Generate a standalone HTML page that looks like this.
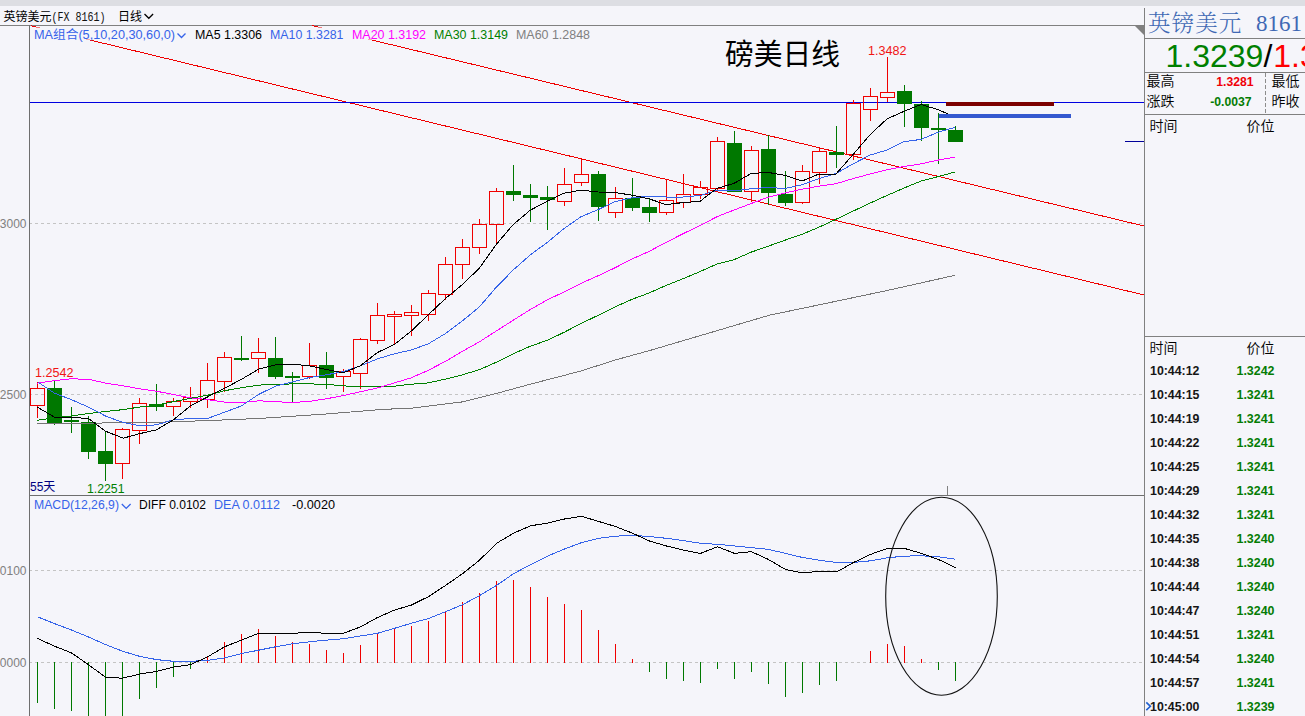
<!DOCTYPE html>
<html lang="zh"><head><meta charset="utf-8"><title>英镑美元 日线</title>
<style>html,body{margin:0;padding:0;background:#f5f5fa;overflow:hidden}svg text{white-space:pre}</style></head>
<body>
<svg width="1305" height="716" viewBox="0 0 1305 716" style="display:block">
<rect x="0" y="0" width="1305" height="716" fill="#f5f5fa"/>
<rect x="0" y="0" width="1305" height="6" fill="#dddee3"/>
<text x="3.5" y="20.6" font-family='"Liberation Sans", "Noto Sans CJK SC", sans-serif' font-size="12" fill="#000" textLength="48" lengthAdjust="spacingAndGlyphs">英镑美元</text>
<text x="51.5" y="20.6" font-family='"Liberation Mono", "Noto Sans CJK SC", monospace' font-size="12" fill="#111" textLength="54" lengthAdjust="spacingAndGlyphs" xml:space="preserve">(FX 8161)</text>
<text x="118" y="20.6" font-family='"Liberation Sans", "Noto Sans CJK SC", sans-serif' font-size="12" fill="#000">日线</text>
<polyline points="144.5,14 148.8,18.3 153.1,14" fill="none" stroke="#000" stroke-width="1.3"/>
<rect x="0" y="25" width="1144" height="1" fill="#808080"/>
<line x1="29" y1="223.5" x2="1144" y2="223.5" stroke="#c4c4c4" stroke-width="1" stroke-dasharray="3,3"/>
<line x1="29" y1="394.5" x2="1144" y2="394.5" stroke="#c4c4c4" stroke-width="1" stroke-dasharray="3,3"/>
<line x1="29" y1="570.5" x2="1144" y2="570.5" stroke="#c4c4c4" stroke-width="1" stroke-dasharray="3,3"/>
<line x1="29" y1="662.5" x2="1144" y2="662.5" stroke="#c4c4c4" stroke-width="1" stroke-dasharray="3,3"/>
<rect x="29" y="25" width="1" height="691" fill="#6e6e6e"/>
<rect x="29" y="495" width="1115" height="1" fill="#6e6e6e"/>
<text x="26.5" y="228" text-anchor="end" font-family='"Liberation Sans", "Noto Sans CJK SC", sans-serif' font-size="12" fill="#808080">1.3000</text>
<text x="26.5" y="398.5" text-anchor="end" font-family='"Liberation Sans", "Noto Sans CJK SC", sans-serif' font-size="12" fill="#808080">1.2500</text>
<text x="26.5" y="575" text-anchor="end" font-family='"Liberation Sans", "Noto Sans CJK SC", sans-serif' font-size="12" fill="#808080">0.0100</text>
<text x="26.5" y="667" text-anchor="end" font-family='"Liberation Sans", "Noto Sans CJK SC", sans-serif' font-size="12" fill="#808080">0.0000</text>
<line x1="30.5" y1="25.6" x2="1144" y2="295" stroke="#f00000" stroke-width="1" shape-rendering="crispEdges"/>
<line x1="312" y1="25.6" x2="1144" y2="226" stroke="#f00000" stroke-width="1" shape-rendering="crispEdges"/>
<rect x="30" y="27.5" width="570" height="12.2" fill="#f5f5fa"/>
<rect x="30" y="102" width="1114" height="1" fill="#0000e0"/>
<rect x="1125" y="141" width="19" height="1" fill="#000099"/>
<line x1="37.5" y1="382" x2="37.5" y2="388" stroke="#f00000" stroke-width="1"/>
<line x1="37.5" y1="406" x2="37.5" y2="418" stroke="#f00000" stroke-width="1"/>
<rect x="30.5" y="388.5" width="14" height="17" fill="none" stroke="#f00000" stroke-width="1"/>
<line x1="54.5" y1="380" x2="54.5" y2="425" stroke="#007800" stroke-width="1"/>
<rect x="47.0" y="388" width="15" height="35" fill="#007800"/>
<line x1="71.5" y1="407" x2="71.5" y2="433" stroke="#007800" stroke-width="1"/>
<rect x="64.0" y="420" width="15" height="2" fill="#007800"/>
<line x1="88.5" y1="416" x2="88.5" y2="459" stroke="#007800" stroke-width="1"/>
<rect x="81.0" y="422" width="15" height="30" fill="#007800"/>
<line x1="105.5" y1="432" x2="105.5" y2="481" stroke="#007800" stroke-width="1"/>
<rect x="98.0" y="451" width="15" height="13" fill="#007800"/>
<line x1="122.5" y1="428" x2="122.5" y2="429" stroke="#f00000" stroke-width="1"/>
<line x1="122.5" y1="464" x2="122.5" y2="479" stroke="#f00000" stroke-width="1"/>
<rect x="115.5" y="429.5" width="14" height="34" fill="none" stroke="#f00000" stroke-width="1"/>
<line x1="139.5" y1="398" x2="139.5" y2="403" stroke="#f00000" stroke-width="1"/>
<line x1="139.5" y1="431" x2="139.5" y2="444" stroke="#f00000" stroke-width="1"/>
<rect x="132.5" y="403.5" width="14" height="27" fill="none" stroke="#f00000" stroke-width="1"/>
<line x1="156.5" y1="384" x2="156.5" y2="411" stroke="#007800" stroke-width="1"/>
<rect x="149.0" y="404" width="15" height="3" fill="#007800"/>
<line x1="173.5" y1="398" x2="173.5" y2="401" stroke="#f00000" stroke-width="1"/>
<line x1="173.5" y1="407" x2="173.5" y2="416" stroke="#f00000" stroke-width="1"/>
<rect x="166.5" y="401.5" width="14" height="5" fill="none" stroke="#f00000" stroke-width="1"/>
<line x1="190.5" y1="387" x2="190.5" y2="397" stroke="#f00000" stroke-width="1"/>
<line x1="190.5" y1="402" x2="190.5" y2="408" stroke="#f00000" stroke-width="1"/>
<rect x="183.5" y="397.5" width="14" height="4" fill="none" stroke="#f00000" stroke-width="1"/>
<line x1="207.5" y1="363" x2="207.5" y2="380" stroke="#f00000" stroke-width="1"/>
<line x1="207.5" y1="400" x2="207.5" y2="408" stroke="#f00000" stroke-width="1"/>
<rect x="200.5" y="380.5" width="14" height="19" fill="none" stroke="#f00000" stroke-width="1"/>
<line x1="224.5" y1="352" x2="224.5" y2="357" stroke="#f00000" stroke-width="1"/>
<line x1="224.5" y1="382" x2="224.5" y2="392" stroke="#f00000" stroke-width="1"/>
<rect x="217.5" y="357.5" width="14" height="24" fill="none" stroke="#f00000" stroke-width="1"/>
<line x1="241.5" y1="336" x2="241.5" y2="361" stroke="#007800" stroke-width="1"/>
<rect x="234.0" y="358" width="15" height="2" fill="#007800"/>
<line x1="258.5" y1="338" x2="258.5" y2="352" stroke="#f00000" stroke-width="1"/>
<line x1="258.5" y1="359" x2="258.5" y2="373" stroke="#f00000" stroke-width="1"/>
<rect x="251.5" y="352.5" width="14" height="6" fill="none" stroke="#f00000" stroke-width="1"/>
<line x1="275.5" y1="337" x2="275.5" y2="379" stroke="#007800" stroke-width="1"/>
<rect x="268.0" y="358" width="15" height="19" fill="#007800"/>
<line x1="292.5" y1="372" x2="292.5" y2="402" stroke="#007800" stroke-width="1"/>
<rect x="285.0" y="376" width="15" height="2" fill="#007800"/>
<line x1="309.5" y1="343" x2="309.5" y2="365" stroke="#f00000" stroke-width="1"/>
<line x1="309.5" y1="377" x2="309.5" y2="379" stroke="#f00000" stroke-width="1"/>
<rect x="302.5" y="365.5" width="14" height="11" fill="none" stroke="#f00000" stroke-width="1"/>
<line x1="326.5" y1="352" x2="326.5" y2="389" stroke="#007800" stroke-width="1"/>
<rect x="319.0" y="365" width="15" height="13" fill="#007800"/>
<line x1="343.5" y1="369" x2="343.5" y2="371" stroke="#f00000" stroke-width="1"/>
<line x1="343.5" y1="377" x2="343.5" y2="392" stroke="#f00000" stroke-width="1"/>
<rect x="336.5" y="371.5" width="14" height="5" fill="none" stroke="#f00000" stroke-width="1"/>
<line x1="360.5" y1="338" x2="360.5" y2="339" stroke="#f00000" stroke-width="1"/>
<line x1="360.5" y1="374" x2="360.5" y2="389" stroke="#f00000" stroke-width="1"/>
<rect x="353.5" y="339.5" width="14" height="34" fill="none" stroke="#f00000" stroke-width="1"/>
<line x1="377.5" y1="303" x2="377.5" y2="315" stroke="#f00000" stroke-width="1"/>
<line x1="377.5" y1="341" x2="377.5" y2="344" stroke="#f00000" stroke-width="1"/>
<rect x="370.5" y="315.5" width="14" height="25" fill="none" stroke="#f00000" stroke-width="1"/>
<line x1="394.5" y1="311" x2="394.5" y2="314" stroke="#f00000" stroke-width="1"/>
<line x1="394.5" y1="317" x2="394.5" y2="345" stroke="#f00000" stroke-width="1"/>
<rect x="387.5" y="314.5" width="14" height="2" fill="none" stroke="#f00000" stroke-width="1"/>
<line x1="411.5" y1="305" x2="411.5" y2="312" stroke="#f00000" stroke-width="1"/>
<line x1="411.5" y1="316" x2="411.5" y2="336" stroke="#f00000" stroke-width="1"/>
<rect x="404.5" y="312.5" width="14" height="3" fill="none" stroke="#f00000" stroke-width="1"/>
<line x1="428.5" y1="290" x2="428.5" y2="293" stroke="#f00000" stroke-width="1"/>
<line x1="428.5" y1="315" x2="428.5" y2="321" stroke="#f00000" stroke-width="1"/>
<rect x="421.5" y="293.5" width="14" height="21" fill="none" stroke="#f00000" stroke-width="1"/>
<line x1="445.5" y1="257" x2="445.5" y2="264" stroke="#f00000" stroke-width="1"/>
<line x1="445.5" y1="295" x2="445.5" y2="300" stroke="#f00000" stroke-width="1"/>
<rect x="438.5" y="264.5" width="14" height="30" fill="none" stroke="#f00000" stroke-width="1"/>
<line x1="462.5" y1="239" x2="462.5" y2="247" stroke="#f00000" stroke-width="1"/>
<line x1="462.5" y1="265" x2="462.5" y2="279" stroke="#f00000" stroke-width="1"/>
<rect x="455.5" y="247.5" width="14" height="17" fill="none" stroke="#f00000" stroke-width="1"/>
<line x1="479.5" y1="219" x2="479.5" y2="224" stroke="#f00000" stroke-width="1"/>
<line x1="479.5" y1="248" x2="479.5" y2="254" stroke="#f00000" stroke-width="1"/>
<rect x="472.5" y="224.5" width="14" height="23" fill="none" stroke="#f00000" stroke-width="1"/>
<line x1="496.5" y1="188" x2="496.5" y2="191" stroke="#f00000" stroke-width="1"/>
<line x1="496.5" y1="225" x2="496.5" y2="243" stroke="#f00000" stroke-width="1"/>
<rect x="489.5" y="191.5" width="14" height="33" fill="none" stroke="#f00000" stroke-width="1"/>
<line x1="513.5" y1="165" x2="513.5" y2="201" stroke="#007800" stroke-width="1"/>
<rect x="506.0" y="191" width="15" height="4" fill="#007800"/>
<line x1="530.5" y1="184" x2="530.5" y2="222" stroke="#007800" stroke-width="1"/>
<rect x="523.0" y="195" width="15" height="3" fill="#007800"/>
<line x1="547.5" y1="186" x2="547.5" y2="230" stroke="#007800" stroke-width="1"/>
<rect x="540.0" y="197" width="15" height="3" fill="#007800"/>
<line x1="564.5" y1="168" x2="564.5" y2="184" stroke="#f00000" stroke-width="1"/>
<line x1="564.5" y1="202" x2="564.5" y2="206" stroke="#f00000" stroke-width="1"/>
<rect x="557.5" y="184.5" width="14" height="17" fill="none" stroke="#f00000" stroke-width="1"/>
<line x1="581.5" y1="159" x2="581.5" y2="174" stroke="#f00000" stroke-width="1"/>
<line x1="581.5" y1="183" x2="581.5" y2="186" stroke="#f00000" stroke-width="1"/>
<rect x="574.5" y="174.5" width="14" height="8" fill="none" stroke="#f00000" stroke-width="1"/>
<line x1="598.5" y1="171" x2="598.5" y2="221" stroke="#007800" stroke-width="1"/>
<rect x="591.0" y="174" width="15" height="33" fill="#007800"/>
<line x1="615.5" y1="187" x2="615.5" y2="198" stroke="#f00000" stroke-width="1"/>
<line x1="615.5" y1="213" x2="615.5" y2="218" stroke="#f00000" stroke-width="1"/>
<rect x="608.5" y="198.5" width="14" height="14" fill="none" stroke="#f00000" stroke-width="1"/>
<line x1="632.5" y1="178" x2="632.5" y2="211" stroke="#007800" stroke-width="1"/>
<rect x="625.0" y="198" width="15" height="10" fill="#007800"/>
<line x1="649.5" y1="199" x2="649.5" y2="222" stroke="#007800" stroke-width="1"/>
<rect x="642.0" y="207" width="15" height="6" fill="#007800"/>
<line x1="666.5" y1="180" x2="666.5" y2="200" stroke="#f00000" stroke-width="1"/>
<line x1="666.5" y1="213" x2="666.5" y2="215" stroke="#f00000" stroke-width="1"/>
<rect x="659.5" y="200.5" width="14" height="12" fill="none" stroke="#f00000" stroke-width="1"/>
<line x1="683.5" y1="174" x2="683.5" y2="194" stroke="#f00000" stroke-width="1"/>
<line x1="683.5" y1="203" x2="683.5" y2="208" stroke="#f00000" stroke-width="1"/>
<rect x="676.5" y="194.5" width="14" height="8" fill="none" stroke="#f00000" stroke-width="1"/>
<line x1="700.5" y1="181" x2="700.5" y2="187" stroke="#f00000" stroke-width="1"/>
<line x1="700.5" y1="195" x2="700.5" y2="199" stroke="#f00000" stroke-width="1"/>
<rect x="693.5" y="187.5" width="14" height="7" fill="none" stroke="#f00000" stroke-width="1"/>
<line x1="717.5" y1="137" x2="717.5" y2="141" stroke="#f00000" stroke-width="1"/>
<line x1="717.5" y1="189" x2="717.5" y2="191" stroke="#f00000" stroke-width="1"/>
<rect x="710.5" y="141.5" width="14" height="47" fill="none" stroke="#f00000" stroke-width="1"/>
<line x1="734.5" y1="131" x2="734.5" y2="192" stroke="#007800" stroke-width="1"/>
<rect x="727.0" y="143" width="15" height="49" fill="#007800"/>
<line x1="751.5" y1="146" x2="751.5" y2="150" stroke="#f00000" stroke-width="1"/>
<line x1="751.5" y1="192" x2="751.5" y2="202" stroke="#f00000" stroke-width="1"/>
<rect x="744.5" y="150.5" width="14" height="41" fill="none" stroke="#f00000" stroke-width="1"/>
<line x1="768.5" y1="135" x2="768.5" y2="205" stroke="#007800" stroke-width="1"/>
<rect x="761.0" y="149" width="15" height="44" fill="#007800"/>
<line x1="785.5" y1="171" x2="785.5" y2="206" stroke="#007800" stroke-width="1"/>
<rect x="778.0" y="194" width="15" height="9" fill="#007800"/>
<line x1="802.5" y1="165" x2="802.5" y2="171" stroke="#f00000" stroke-width="1"/>
<line x1="802.5" y1="203" x2="802.5" y2="204" stroke="#f00000" stroke-width="1"/>
<rect x="795.5" y="171.5" width="14" height="31" fill="none" stroke="#f00000" stroke-width="1"/>
<line x1="819.5" y1="148" x2="819.5" y2="151" stroke="#f00000" stroke-width="1"/>
<line x1="819.5" y1="173" x2="819.5" y2="184" stroke="#f00000" stroke-width="1"/>
<rect x="812.5" y="151.5" width="14" height="21" fill="none" stroke="#f00000" stroke-width="1"/>
<line x1="836.5" y1="126" x2="836.5" y2="168" stroke="#007800" stroke-width="1"/>
<rect x="829.0" y="152" width="15" height="3" fill="#007800"/>
<line x1="853.5" y1="100" x2="853.5" y2="103" stroke="#f00000" stroke-width="1"/>
<line x1="853.5" y1="155" x2="853.5" y2="160" stroke="#f00000" stroke-width="1"/>
<rect x="846.5" y="103.5" width="14" height="51" fill="none" stroke="#f00000" stroke-width="1"/>
<line x1="870.5" y1="88" x2="870.5" y2="96" stroke="#f00000" stroke-width="1"/>
<line x1="870.5" y1="110" x2="870.5" y2="121" stroke="#f00000" stroke-width="1"/>
<rect x="863.5" y="96.5" width="14" height="13" fill="none" stroke="#f00000" stroke-width="1"/>
<line x1="887.5" y1="57" x2="887.5" y2="92" stroke="#f00000" stroke-width="1"/>
<line x1="887.5" y1="98" x2="887.5" y2="102" stroke="#f00000" stroke-width="1"/>
<rect x="880.5" y="92.5" width="14" height="5" fill="none" stroke="#f00000" stroke-width="1"/>
<line x1="904.5" y1="85" x2="904.5" y2="127" stroke="#007800" stroke-width="1"/>
<rect x="897.0" y="91" width="15" height="13" fill="#007800"/>
<line x1="921.5" y1="101" x2="921.5" y2="141" stroke="#007800" stroke-width="1"/>
<rect x="914.0" y="104" width="15" height="24" fill="#007800"/>
<line x1="938.5" y1="113" x2="938.5" y2="164" stroke="#007800" stroke-width="1"/>
<rect x="931.0" y="128" width="15" height="2" fill="#007800"/>
<line x1="955.5" y1="126" x2="955.5" y2="142" stroke="#007800" stroke-width="1"/>
<rect x="948.0" y="130" width="15" height="12" fill="#007800"/>
<polyline points="37.4,423.6 88.0,423.2 156.3,422.3 207.4,420.6 258.5,418.5 326.5,414.0 382.0,409.4 411.3,408.2 462.4,401.9 496.3,393.5 530.2,384.2 581.0,371.0 614.9,360.1 640.0,353.2 648.8,350.8 769.0,315.3 819.8,304.7 886.2,290.7 954.6,275.4" fill="none" stroke="#757575" stroke-width="1" stroke-linejoin="round" shape-rendering="crispEdges"/>
<polyline points="37.4,420.3 54.6,417.8 71.3,416.0 88.5,413.5 105.5,411.5 122.4,409.7 139.4,407.1 156.3,405.1 173.5,401.6 190.4,398.3 207.4,395.3 224.6,390.7 241.5,387.7 258.5,385.1 275.4,384.4 292.6,383.9 309.6,383.9 326.5,384.3 343.5,385.9 360.5,386.7 377.4,386.7 394.4,386.2 411.3,384.2 428.5,382.9 445.4,379.1 462.4,374.8 479.3,369.7 496.3,362.2 513.2,353.8 530.2,346.2 547.1,340.4 564.1,332.3 581.0,323.5 598.0,315.4 614.9,307.0 631.8,299.4 649.0,293.0 666.0,285.5 683.0,278.7 700.0,271.6 717.0,264.0 734.0,259.7 751.0,252.2 768.0,246.3 785.0,240.2 802.0,234.3 819.0,227.2 836.0,219.3 853.0,211.2 870.0,203.1 887.0,195.5 904.0,188.0 921.0,181.1 938.0,176.6 955.0,172.0" fill="none" stroke="#008000" stroke-width="1" stroke-linejoin="round" shape-rendering="crispEdges"/>
<polyline points="37.4,383.1 54.6,380.6 71.3,378.8 88.5,379.3 105.5,383.1 122.4,385.7 139.4,388.7 156.3,391.2 173.5,394.5 190.4,397.8 207.4,399.6 224.6,402.1 241.5,402.6 258.5,400.8 275.4,401.6 292.6,402.6 309.6,401.3 326.5,398.8 343.5,395.5 360.5,391.7 377.4,388.0 394.4,382.9 411.3,377.8 428.5,370.2 445.4,361.4 462.4,351.3 479.3,341.9 496.3,331.0 513.2,320.2 530.2,309.6 547.1,299.9 564.1,292.0 581.0,283.4 598.0,275.8 615.0,267.8 632.0,259.0 649.0,251.4 666.0,242.5 683.0,233.7 700.0,225.6 717.0,216.7 734.0,210.0 751.0,203.6 768.0,197.2 785.0,193.0 802.0,189.2 819.0,186.2 836.0,183.7 853.0,178.6 870.0,174.0 887.0,169.7 904.0,166.5 921.0,163.9 938.0,160.1 955.0,157.1" fill="none" stroke="#ff00ff" stroke-width="1" stroke-linejoin="round" shape-rendering="crispEdges"/>
<polyline points="37.4,381.8 54.6,393.2 71.3,399.6 88.5,407.1 105.5,416.0 122.4,422.3 139.4,425.6 156.3,424.9 173.5,419.8 190.4,418.5 207.4,418.5 224.6,412.2 241.5,405.9 258.5,394.5 275.4,386.2 292.6,381.8 309.6,377.5 326.5,374.8 343.5,371.5 360.5,365.7 377.4,358.9 394.4,353.8 411.3,350.0 428.5,343.7 445.4,333.6 462.4,320.9 479.3,307.0 496.3,287.2 513.2,270.0 530.2,255.0 547.1,242.5 564.0,228.6 581.0,216.7 598.0,209.7 615.0,201.6 632.0,197.8 649.0,196.3 666.0,197.0 683.0,197.0 700.0,195.5 717.0,190.4 734.0,191.0 751.0,188.7 768.0,187.5 785.0,188.5 802.0,184.7 819.0,178.6 836.0,173.5 853.0,163.9 870.0,155.1 887.0,150.0 904.0,141.7 921.0,139.4 938.0,132.3 955.0,127.3" fill="none" stroke="#3563e9" stroke-width="1" stroke-linejoin="round" shape-rendering="crispEdges"/>
<polyline points="37.4,407.1 54.6,417.3 71.3,417.3 88.5,418.5 105.5,431.2 123.2,438.2 139.4,433.7 156.3,429.9 173.5,419.8 190.4,405.9 207.4,397.0 224.6,388.2 241.5,379.3 258.5,369.2 275.4,364.9 292.6,364.1 309.6,365.9 326.5,369.5 343.5,372.8 360.5,365.7 377.4,352.5 394.4,344.5 411.3,331.0 428.5,314.6 445.4,298.6 462.4,284.6 479.3,268.2 496.3,244.4 513.0,224.8 530.0,210.4 547.0,201.3 564.0,193.2 581.0,190.2 598.0,192.0 615.0,192.5 632.0,195.2 649.0,198.8 666.0,204.6 683.0,202.6 700.0,201.3 717.0,188.4 734.0,183.4 751.0,173.5 768.0,172.4 785.0,175.3 802.0,181.1 819.0,174.0 836.0,174.0 853.0,154.6 870.0,134.8 887.0,118.9 904.0,111.3 921.0,104.5 938.0,109.6 948.0,114.0" fill="none" stroke="#000000" stroke-width="1" stroke-linejoin="round" shape-rendering="crispEdges"/>
<rect x="946" y="102" width="108" height="4" fill="#7c0000"/>
<rect x="939" y="114" width="132" height="4" fill="#3458cf"/>
<text x="725" y="65" font-family='"Liberation Sans", "Noto Sans CJK SC", sans-serif' font-size="29" fill="#000" textLength="115" lengthAdjust="spacingAndGlyphs">磅美日线</text>
<text x="868" y="55.2" font-family='"Liberation Sans", "Noto Sans CJK SC", sans-serif' font-size="12.3" fill="#f01414" textLength="38.5" lengthAdjust="spacingAndGlyphs">1.3482</text>
<text x="35" y="377" font-family='"Liberation Sans", "Noto Sans CJK SC", sans-serif' font-size="12.3" fill="#f01414" textLength="38.5" lengthAdjust="spacingAndGlyphs">1.2542</text>
<text x="87" y="492.7" font-family='"Liberation Sans", "Noto Sans CJK SC", sans-serif' font-size="12.3" fill="#008000" textLength="37.5" lengthAdjust="spacingAndGlyphs">1.2251</text>
<text x="30" y="491" font-family='"Liberation Sans", "Noto Sans CJK SC", sans-serif' font-size="12" fill="#000080">55天</text>
<text x="34" y="39" font-family='"Liberation Sans", "Noto Sans CJK SC", sans-serif' font-size="12.3" fill="#3563e9" textLength="141" lengthAdjust="spacingAndGlyphs">MA组合(5,10,20,30,60,0)</text>
<text x="195" y="39" font-family='"Liberation Sans", "Noto Sans CJK SC", sans-serif' font-size="12.3" fill="#000" textLength="67" lengthAdjust="spacingAndGlyphs">MA5 1.3306</text>
<text x="270" y="39" font-family='"Liberation Sans", "Noto Sans CJK SC", sans-serif' font-size="12.3" fill="#3563e9" textLength="73.5" lengthAdjust="spacingAndGlyphs">MA10 1.3281</text>
<text x="352" y="39" font-family='"Liberation Sans", "Noto Sans CJK SC", sans-serif' font-size="12.3" fill="#ff00ff" textLength="74" lengthAdjust="spacingAndGlyphs">MA20 1.3192</text>
<text x="434" y="39" font-family='"Liberation Sans", "Noto Sans CJK SC", sans-serif' font-size="12.3" fill="#008000" textLength="74" lengthAdjust="spacingAndGlyphs">MA30 1.3149</text>
<text x="516" y="39" font-family='"Liberation Sans", "Noto Sans CJK SC", sans-serif' font-size="12.3" fill="#808080" textLength="74" lengthAdjust="spacingAndGlyphs">MA60 1.2848</text>
<polyline points="177.5,33.5 181.5,37.5 185.5,33.5" fill="none" stroke="#3563e9" stroke-width="1.3"/>
<line x1="37.5" y1="662" x2="37.5" y2="703" stroke="#007800" stroke-width="1"/>
<line x1="54.5" y1="662" x2="54.5" y2="709" stroke="#007800" stroke-width="1"/>
<line x1="71.5" y1="662" x2="71.5" y2="711" stroke="#007800" stroke-width="1"/>
<line x1="88.5" y1="662" x2="88.5" y2="721" stroke="#007800" stroke-width="1"/>
<line x1="105.5" y1="662" x2="105.5" y2="721" stroke="#007800" stroke-width="1"/>
<line x1="122.5" y1="662" x2="122.5" y2="721" stroke="#007800" stroke-width="1"/>
<line x1="139.5" y1="662" x2="139.5" y2="699" stroke="#007800" stroke-width="1"/>
<line x1="156.5" y1="662" x2="156.5" y2="688" stroke="#007800" stroke-width="1"/>
<line x1="173.5" y1="662" x2="173.5" y2="677" stroke="#007800" stroke-width="1"/>
<line x1="190.5" y1="662" x2="190.5" y2="669" stroke="#007800" stroke-width="1"/>
<line x1="207.5" y1="663" x2="207.5" y2="657" stroke="#f00000" stroke-width="1"/>
<line x1="224.5" y1="663" x2="224.5" y2="642" stroke="#f00000" stroke-width="1"/>
<line x1="241.5" y1="663" x2="241.5" y2="634" stroke="#f00000" stroke-width="1"/>
<line x1="258.5" y1="663" x2="258.5" y2="629" stroke="#f00000" stroke-width="1"/>
<line x1="275.5" y1="663" x2="275.5" y2="636" stroke="#f00000" stroke-width="1"/>
<line x1="292.5" y1="663" x2="292.5" y2="642" stroke="#f00000" stroke-width="1"/>
<line x1="309.5" y1="663" x2="309.5" y2="644" stroke="#f00000" stroke-width="1"/>
<line x1="326.5" y1="663" x2="326.5" y2="650" stroke="#f00000" stroke-width="1"/>
<line x1="343.5" y1="663" x2="343.5" y2="653" stroke="#f00000" stroke-width="1"/>
<line x1="360.5" y1="663" x2="360.5" y2="645" stroke="#f00000" stroke-width="1"/>
<line x1="377.5" y1="663" x2="377.5" y2="633" stroke="#f00000" stroke-width="1"/>
<line x1="394.5" y1="663" x2="394.5" y2="628" stroke="#f00000" stroke-width="1"/>
<line x1="411.5" y1="663" x2="411.5" y2="626" stroke="#f00000" stroke-width="1"/>
<line x1="428.5" y1="663" x2="428.5" y2="621" stroke="#f00000" stroke-width="1"/>
<line x1="445.5" y1="663" x2="445.5" y2="611" stroke="#f00000" stroke-width="1"/>
<line x1="462.5" y1="663" x2="462.5" y2="602" stroke="#f00000" stroke-width="1"/>
<line x1="479.5" y1="663" x2="479.5" y2="593" stroke="#f00000" stroke-width="1"/>
<line x1="496.5" y1="663" x2="496.5" y2="581" stroke="#f00000" stroke-width="1"/>
<line x1="513.5" y1="663" x2="513.5" y2="580" stroke="#f00000" stroke-width="1"/>
<line x1="530.5" y1="663" x2="530.5" y2="587" stroke="#f00000" stroke-width="1"/>
<line x1="547.5" y1="663" x2="547.5" y2="597" stroke="#f00000" stroke-width="1"/>
<line x1="564.5" y1="663" x2="564.5" y2="604" stroke="#f00000" stroke-width="1"/>
<line x1="581.5" y1="663" x2="581.5" y2="610" stroke="#f00000" stroke-width="1"/>
<line x1="598.5" y1="663" x2="598.5" y2="630" stroke="#f00000" stroke-width="1"/>
<line x1="615.5" y1="663" x2="615.5" y2="644" stroke="#f00000" stroke-width="1"/>
<line x1="632.5" y1="663" x2="632.5" y2="659" stroke="#f00000" stroke-width="1"/>
<line x1="649.5" y1="662" x2="649.5" y2="672" stroke="#007800" stroke-width="1"/>
<line x1="666.5" y1="662" x2="666.5" y2="679" stroke="#007800" stroke-width="1"/>
<line x1="683.5" y1="662" x2="683.5" y2="681" stroke="#007800" stroke-width="1"/>
<line x1="700.5" y1="662" x2="700.5" y2="683" stroke="#007800" stroke-width="1"/>
<line x1="717.5" y1="662" x2="717.5" y2="669" stroke="#007800" stroke-width="1"/>
<line x1="734.5" y1="662" x2="734.5" y2="679" stroke="#007800" stroke-width="1"/>
<line x1="751.5" y1="662" x2="751.5" y2="672" stroke="#007800" stroke-width="1"/>
<line x1="768.5" y1="662" x2="768.5" y2="684" stroke="#007800" stroke-width="1"/>
<line x1="785.5" y1="662" x2="785.5" y2="697" stroke="#007800" stroke-width="1"/>
<line x1="802.5" y1="662" x2="802.5" y2="693" stroke="#007800" stroke-width="1"/>
<line x1="819.5" y1="662" x2="819.5" y2="685" stroke="#007800" stroke-width="1"/>
<line x1="836.5" y1="662" x2="836.5" y2="681" stroke="#007800" stroke-width="1"/>
<line x1="870.5" y1="663" x2="870.5" y2="651" stroke="#f00000" stroke-width="1"/>
<line x1="887.5" y1="663" x2="887.5" y2="644" stroke="#f00000" stroke-width="1"/>
<line x1="904.5" y1="663" x2="904.5" y2="646" stroke="#f00000" stroke-width="1"/>
<line x1="921.5" y1="663" x2="921.5" y2="659" stroke="#f00000" stroke-width="1"/>
<line x1="938.5" y1="662" x2="938.5" y2="670" stroke="#007800" stroke-width="1"/>
<line x1="955.5" y1="662" x2="955.5" y2="681" stroke="#007800" stroke-width="1"/>
<polyline points="37.5,616.8 54.5,623.6 71.5,630.0 88.5,637.0 105.5,644.5 122.5,651.2 139.5,656.3 156.5,659.6 173.5,661.3 190.5,661.3 207.5,660.3 224.5,658.0 241.5,653.6 258.5,650.2 275.5,646.8 292.5,643.8 309.5,641.8 326.5,640.1 343.5,638.7 360.5,636.0 377.5,633.3 394.5,628.3 411.5,623.2 428.5,618.5 445.5,611.8 462.5,604.7 479.5,595.6 496.5,585.5 513.5,573.7 530.5,564.6 547.5,556.1 564.5,549.0 581.5,542.6 598.5,538.3 615.5,536.2 632.5,535.2 649.5,536.6 666.5,538.3 683.5,540.6 700.5,543.3 717.5,544.3 734.5,546.0 751.5,547.7 768.5,549.4 785.5,553.4 802.5,557.5 819.5,560.2 836.5,562.5 853.5,562.5 870.5,560.8 887.5,557.8 904.5,556.1 921.5,555.8 938.5,556.8 955.5,559.2" fill="none" stroke="#3563e9" stroke-width="1" stroke-linejoin="round" shape-rendering="crispEdges"/>
<polyline points="37.5,638.4 54.5,646.2 71.5,652.9 88.5,664.7 105.5,677.2 122.5,678.2 139.5,674.1 156.5,671.4 173.5,667.1 190.5,664.7 207.5,656.9 224.5,646.8 241.5,640.1 258.5,633.3 275.5,633.3 292.5,633.3 309.5,632.3 326.5,633.3 343.5,633.3 360.5,626.9 377.5,617.5 394.5,610.1 411.5,605.0 428.5,596.6 445.5,585.5 462.5,573.7 479.5,560.2 496.5,543.3 513.5,533.2 530.5,525.8 547.5,523.1 564.5,519.0 581.5,516.3 598.5,521.4 615.5,526.5 632.5,533.2 649.5,541.0 666.5,546.0 683.5,550.1 700.5,553.4 717.5,546.7 734.5,553.4 751.5,551.7 768.5,559.5 785.5,569.5 802.5,573.0 819.5,571.3 836.5,572.0 853.5,562.5 870.5,554.4 887.5,548.4 904.5,548.4 921.5,553.4 938.5,559.5 955.5,567.6" fill="none" stroke="#000" stroke-width="1" stroke-linejoin="round" shape-rendering="crispEdges"/>
<text x="34" y="509" font-family='"Liberation Sans", "Noto Sans CJK SC", sans-serif' font-size="12.3" fill="#3563e9" textLength="85" lengthAdjust="spacingAndGlyphs">MACD(12,26,9)</text>
<text x="139" y="509" font-family='"Liberation Sans", "Noto Sans CJK SC", sans-serif' font-size="12.3" fill="#000" textLength="67" lengthAdjust="spacingAndGlyphs">DIFF 0.0102</text>
<text x="214" y="509" font-family='"Liberation Sans", "Noto Sans CJK SC", sans-serif' font-size="12.3" fill="#3563e9" textLength="66" lengthAdjust="spacingAndGlyphs">DEA 0.0112</text>
<text x="292" y="509" font-family='"Liberation Sans", "Noto Sans CJK SC", sans-serif' font-size="12.3" fill="#000" textLength="43" lengthAdjust="spacingAndGlyphs">-0.0020</text>
<polyline points="121.8,504 126.2,508.4 130.6,504" fill="none" stroke="#3563e9" stroke-width="1.3"/>
<ellipse cx="941.5" cy="596.2" rx="55.8" ry="99" fill="none" stroke="#111" stroke-width="1.1"/>
<rect x="947" y="486" width="1" height="9" fill="#808080"/>
<rect x="1144" y="8" width="1" height="708" fill="#808080"/>
<polygon points="1134.5,25.5 1144,25.5 1144,35" fill="#808080"/>
<rect x="1145" y="38" width="160" height="1" fill="#808080"/>
<rect x="1145" y="72" width="160" height="1" fill="#808080"/>
<rect x="1145" y="114" width="160" height="1" fill="#808080"/>
<rect x="1145" y="336" width="160" height="1" fill="#808080"/>
<text x="1148" y="30.9" font-family='"Liberation Serif", "Noto Serif CJK SC", serif' font-size="22.5" letter-spacing="1.1" font-weight="300" fill="#4068b4" xml:space="preserve">英镑美元</text>
<text x="1256" y="31.2" font-family='"Liberation Serif", "Noto Serif CJK SC", serif' font-size="22.5" fill="#4068b4" textLength="46" lengthAdjust="spacingAndGlyphs">8161</text>
<text x="1165.5" y="66.6" font-family='"Liberation Sans", "Noto Sans CJK SC", sans-serif' font-size="32" xml:space="preserve"><tspan fill="#008000">1.3239</tspan><tspan fill="#000">/</tspan><tspan fill="#ff0000" dx="1">1.3241</tspan></text>
<text x="1146.5" y="86.3" font-family='"Liberation Sans", "Noto Sans CJK SC", sans-serif' font-size="14" font-weight="350" fill="#000">最高</text>
<text x="1146.5" y="106.3" font-family='"Liberation Sans", "Noto Sans CJK SC", sans-serif' font-size="14" font-weight="350" fill="#000">涨跌</text>
<text x="1271.5" y="86.3" font-family='"Liberation Sans", "Noto Sans CJK SC", sans-serif' font-size="14" font-weight="350" fill="#000">最低</text>
<text x="1271.5" y="106.3" font-family='"Liberation Sans", "Noto Sans CJK SC", sans-serif' font-size="14" font-weight="350" fill="#000">昨收</text>
<text x="1253.5" y="86.2" text-anchor="end" font-family='"Liberation Sans", "Noto Sans CJK SC", sans-serif' font-size="12.2" font-weight="bold" fill="#f00008">1.3281</text>
<text x="1251.5" y="106.2" text-anchor="end" font-family='"Liberation Sans", "Noto Sans CJK SC", sans-serif' font-size="12.2" font-weight="bold" fill="#047c04">-0.0037</text>
<line x1="1265.5" y1="73" x2="1265.5" y2="114" stroke="#8c8c8c" stroke-width="1" stroke-dasharray="4,2"/>
<text x="1149.5" y="131.2" font-family='"Liberation Sans", "Noto Sans CJK SC", sans-serif' font-size="14" font-weight="350" fill="#000">时间</text>
<text x="1246.5" y="131.2" font-family='"Liberation Sans", "Noto Sans CJK SC", sans-serif' font-size="14" font-weight="350" fill="#000">价位</text>
<text x="1149.5" y="352.8" font-family='"Liberation Sans", "Noto Sans CJK SC", sans-serif' font-size="14" font-weight="350" fill="#000">时间</text>
<text x="1246.5" y="352.8" font-family='"Liberation Sans", "Noto Sans CJK SC", sans-serif' font-size="14" font-weight="350" fill="#000">价位</text>
<text x="1150" y="375.3" font-family='"Liberation Sans", "Noto Sans CJK SC", sans-serif' font-size="12.7" font-weight="bold" fill="#161616" textLength="49.5" lengthAdjust="spacingAndGlyphs">10:44:12</text>
<text x="1236.5" y="375.3" font-family='"Liberation Sans", "Noto Sans CJK SC", sans-serif' font-size="12.7" font-weight="bold" fill="#047c04" textLength="38" lengthAdjust="spacingAndGlyphs">1.3242</text>
<text x="1150" y="399.3" font-family='"Liberation Sans", "Noto Sans CJK SC", sans-serif' font-size="12.7" font-weight="bold" fill="#161616" textLength="49.5" lengthAdjust="spacingAndGlyphs">10:44:15</text>
<text x="1236.5" y="399.3" font-family='"Liberation Sans", "Noto Sans CJK SC", sans-serif' font-size="12.7" font-weight="bold" fill="#047c04" textLength="38" lengthAdjust="spacingAndGlyphs">1.3241</text>
<text x="1150" y="423.3" font-family='"Liberation Sans", "Noto Sans CJK SC", sans-serif' font-size="12.7" font-weight="bold" fill="#161616" textLength="49.5" lengthAdjust="spacingAndGlyphs">10:44:19</text>
<text x="1236.5" y="423.3" font-family='"Liberation Sans", "Noto Sans CJK SC", sans-serif' font-size="12.7" font-weight="bold" fill="#047c04" textLength="38" lengthAdjust="spacingAndGlyphs">1.3241</text>
<text x="1150" y="447.3" font-family='"Liberation Sans", "Noto Sans CJK SC", sans-serif' font-size="12.7" font-weight="bold" fill="#161616" textLength="49.5" lengthAdjust="spacingAndGlyphs">10:44:22</text>
<text x="1236.5" y="447.3" font-family='"Liberation Sans", "Noto Sans CJK SC", sans-serif' font-size="12.7" font-weight="bold" fill="#047c04" textLength="38" lengthAdjust="spacingAndGlyphs">1.3241</text>
<text x="1150" y="471.3" font-family='"Liberation Sans", "Noto Sans CJK SC", sans-serif' font-size="12.7" font-weight="bold" fill="#161616" textLength="49.5" lengthAdjust="spacingAndGlyphs">10:44:25</text>
<text x="1236.5" y="471.3" font-family='"Liberation Sans", "Noto Sans CJK SC", sans-serif' font-size="12.7" font-weight="bold" fill="#047c04" textLength="38" lengthAdjust="spacingAndGlyphs">1.3241</text>
<text x="1150" y="495.3" font-family='"Liberation Sans", "Noto Sans CJK SC", sans-serif' font-size="12.7" font-weight="bold" fill="#161616" textLength="49.5" lengthAdjust="spacingAndGlyphs">10:44:29</text>
<text x="1236.5" y="495.3" font-family='"Liberation Sans", "Noto Sans CJK SC", sans-serif' font-size="12.7" font-weight="bold" fill="#047c04" textLength="38" lengthAdjust="spacingAndGlyphs">1.3241</text>
<text x="1150" y="519.3" font-family='"Liberation Sans", "Noto Sans CJK SC", sans-serif' font-size="12.7" font-weight="bold" fill="#161616" textLength="49.5" lengthAdjust="spacingAndGlyphs">10:44:32</text>
<text x="1236.5" y="519.3" font-family='"Liberation Sans", "Noto Sans CJK SC", sans-serif' font-size="12.7" font-weight="bold" fill="#047c04" textLength="38" lengthAdjust="spacingAndGlyphs">1.3241</text>
<text x="1150" y="543.3" font-family='"Liberation Sans", "Noto Sans CJK SC", sans-serif' font-size="12.7" font-weight="bold" fill="#161616" textLength="49.5" lengthAdjust="spacingAndGlyphs">10:44:35</text>
<text x="1236.5" y="543.3" font-family='"Liberation Sans", "Noto Sans CJK SC", sans-serif' font-size="12.7" font-weight="bold" fill="#047c04" textLength="38" lengthAdjust="spacingAndGlyphs">1.3240</text>
<text x="1150" y="567.3" font-family='"Liberation Sans", "Noto Sans CJK SC", sans-serif' font-size="12.7" font-weight="bold" fill="#161616" textLength="49.5" lengthAdjust="spacingAndGlyphs">10:44:38</text>
<text x="1236.5" y="567.3" font-family='"Liberation Sans", "Noto Sans CJK SC", sans-serif' font-size="12.7" font-weight="bold" fill="#047c04" textLength="38" lengthAdjust="spacingAndGlyphs">1.3240</text>
<text x="1150" y="591.3" font-family='"Liberation Sans", "Noto Sans CJK SC", sans-serif' font-size="12.7" font-weight="bold" fill="#161616" textLength="49.5" lengthAdjust="spacingAndGlyphs">10:44:44</text>
<text x="1236.5" y="591.3" font-family='"Liberation Sans", "Noto Sans CJK SC", sans-serif' font-size="12.7" font-weight="bold" fill="#047c04" textLength="38" lengthAdjust="spacingAndGlyphs">1.3240</text>
<text x="1150" y="615.3" font-family='"Liberation Sans", "Noto Sans CJK SC", sans-serif' font-size="12.7" font-weight="bold" fill="#161616" textLength="49.5" lengthAdjust="spacingAndGlyphs">10:44:47</text>
<text x="1236.5" y="615.3" font-family='"Liberation Sans", "Noto Sans CJK SC", sans-serif' font-size="12.7" font-weight="bold" fill="#047c04" textLength="38" lengthAdjust="spacingAndGlyphs">1.3240</text>
<text x="1150" y="639.3" font-family='"Liberation Sans", "Noto Sans CJK SC", sans-serif' font-size="12.7" font-weight="bold" fill="#161616" textLength="49.5" lengthAdjust="spacingAndGlyphs">10:44:51</text>
<text x="1236.5" y="639.3" font-family='"Liberation Sans", "Noto Sans CJK SC", sans-serif' font-size="12.7" font-weight="bold" fill="#047c04" textLength="38" lengthAdjust="spacingAndGlyphs">1.3241</text>
<text x="1150" y="663.3" font-family='"Liberation Sans", "Noto Sans CJK SC", sans-serif' font-size="12.7" font-weight="bold" fill="#161616" textLength="49.5" lengthAdjust="spacingAndGlyphs">10:44:54</text>
<text x="1236.5" y="663.3" font-family='"Liberation Sans", "Noto Sans CJK SC", sans-serif' font-size="12.7" font-weight="bold" fill="#047c04" textLength="38" lengthAdjust="spacingAndGlyphs">1.3240</text>
<text x="1150" y="687.3" font-family='"Liberation Sans", "Noto Sans CJK SC", sans-serif' font-size="12.7" font-weight="bold" fill="#161616" textLength="49.5" lengthAdjust="spacingAndGlyphs">10:44:57</text>
<text x="1236.5" y="687.3" font-family='"Liberation Sans", "Noto Sans CJK SC", sans-serif' font-size="12.7" font-weight="bold" fill="#047c04" textLength="38" lengthAdjust="spacingAndGlyphs">1.3241</text>
<text x="1150" y="711.3" font-family='"Liberation Sans", "Noto Sans CJK SC", sans-serif' font-size="12.7" font-weight="bold" fill="#161616" textLength="49.5" lengthAdjust="spacingAndGlyphs">10:45:00</text>
<text x="1236.5" y="711.3" font-family='"Liberation Sans", "Noto Sans CJK SC", sans-serif' font-size="12.7" font-weight="bold" fill="#047c04" textLength="38" lengthAdjust="spacingAndGlyphs">1.3239</text>
<polyline points="1146.3,702.4 1150.4,706.3 1146.3,710.2" fill="none" stroke="#2060d0" stroke-width="1.6"/>
</svg>
</body></html>
